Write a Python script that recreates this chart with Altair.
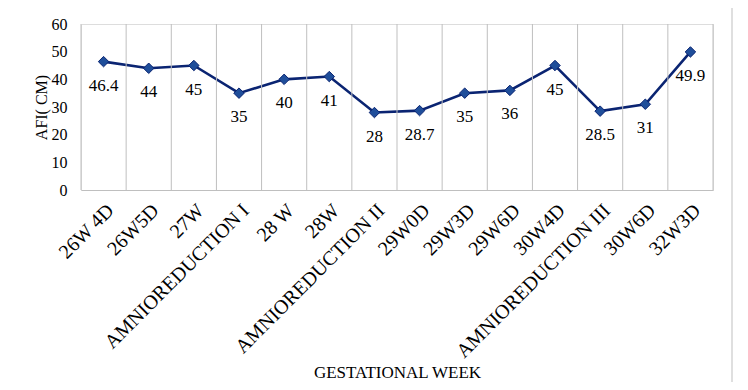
import altair as alt
import pandas as pd

weeks = ["26W 4D", "26W5D", "27W", "AMNIOREDUCTION I", "28 W", "28W",
         "AMNIOREDUCTION II", "29W0D", "29W3D", "29W6D", "30W4D",
         "AMNIOREDUCTION III", "30W6D", "32W3D"]
afi = [46.4, 44, 45, 35, 40, 41, 28, 28.7, 35, 36, 45, 28.5, 31, 49.9]
afi_labels = ["46.4", "44", "45", "35", "40", "41", "28", "28.7", "35", "36",
              "45", "28.5", "31", "49.9"]

df = pd.DataFrame({"week": weeks, "afi": afi, "label": afi_labels})

W, H = 632, 166
FONT = "Liberation Serif"

x_enc = alt.X("week:N", sort=weeks,
              scale=alt.Scale(type="band", paddingInner=0, paddingOuter=0),
              axis=alt.Axis(title="GESTATIONAL WEEK", labelAngle=-45,
                            labelFont=FONT, labelFontSize=20, labelColor="#000000",
                            labelLimit=400, labelOverlap=False,
                            titleFont=FONT, titleFontSize=17, titleFontWeight="normal",
                            titleColor="#000000", titleY=182, titleBaseline="middle",
                            ticks=False, labelPadding=10, grid=False,
                            domainColor="#BFBFBF", domainWidth=1))
y_enc = alt.Y("afi:Q", scale=alt.Scale(domain=[0, 60], nice=False),
              axis=alt.Axis(title="AFI( CM)", values=[0, 10, 20, 30, 40, 50, 60],
                            labelFont=FONT, labelFontSize=16, labelColor="#000000",
                            titleFont=FONT, titleFontSize=16, titleFontWeight="normal",
                            titleColor="#000000", titlePadding=2,
                            ticks=False, domain=False, grid=False, labelPadding=14))

base = alt.Chart(df)

grid = base.mark_rule(color="#BFBFBF", strokeWidth=1).encode(
    x=alt.X("week:N", sort=weeks, bandPosition=0),
    y=alt.value(0), y2=alt.value(H))
grid_end = alt.Chart(pd.DataFrame({"a": [0]})).mark_rule(color="#BFBFBF", strokeWidth=1).encode(
    x=alt.value(W), y=alt.value(0), y2=alt.value(H))

frame = alt.Chart(pd.DataFrame({"a": [0]})).mark_rect(
    fillOpacity=0, stroke="#BFBFBF", strokeWidth=1).encode(
    x=alt.value(-75), x2=alt.value(651), y=alt.value(-18), y2=alt.value(420))

line = base.mark_line(color="#0A2472", strokeWidth=2.6).encode(x=x_enc, y=y_enc)
pts = base.mark_point(shape="diamond", filled=True, size=110, fill="#1F4E9A",
                      stroke="#0A2472", strokeWidth=1, opacity=1).encode(x=x_enc, y=y_enc)
txt = base.mark_text(dy=24, font=FONT, fontSize=17, color="#000000").encode(
    x=x_enc, y=y_enc, text="label:N")

chart = alt.layer(frame, line, grid, grid_end, pts, txt).properties(
    width=W, height=H,
    autosize=alt.AutoSizeParams(type="none"),
    padding={"left": 73, "top": 16, "right": 27, "bottom": 192},
).configure_view(stroke=None).configure(background="#FFFFFF")

chart.save("out.html", embed_options={"renderer": "svg", "actions": False})
